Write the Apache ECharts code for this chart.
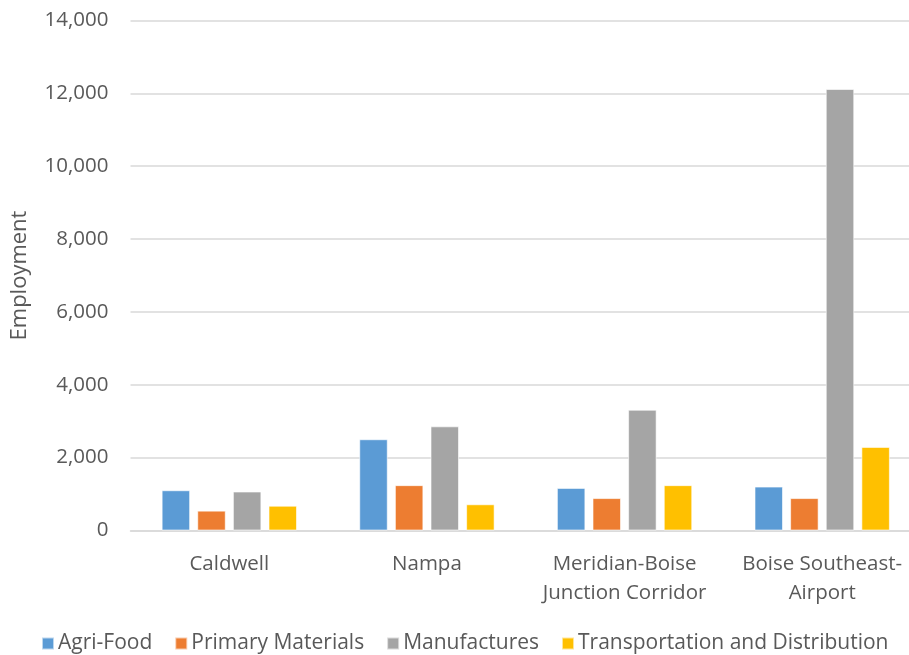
<!DOCTYPE html>
<html>
<head>
<meta charset="utf-8">
<style>
  html, body { margin: 0; padding: 0; background: #fff; overflow: hidden; }
  #chart { width: 921px; height: 655px; }
</style>
<script src="https://cdn.jsdelivr.net/npm/echarts@6/dist/echarts.min.js"></script>
</head>
<body>
<div id="chart"></div>
<script>
// Employment by cluster in each district
const categories = ['Caldwell', 'Nampa', 'Meridian-Boise\nJunction Corridor', 'Boise Southeast-\nAirport'];
const agriFood = [1105, 2505, 1170, 1205];
const primaryMaterials = [545, 1245, 890, 890];
const manufactures = [1070, 2860, 3315, 12120];
const transportation = [680, 720, 1245, 2295];
const yTicks = { min: 0, max: 14000, interval: 2000 };

const textColor = '#595959';
const fontFamily = 'Open Sans, sans-serif';

function barSeries(name, data, color) {
  return {
    name: name,
    type: 'bar',
    data: data,
    barWidth: 28.5,
    barGap: '25%',
    itemStyle: { color: color, borderColor: 'rgba(255,255,255,0.6)', borderWidth: 1 }
  };
}

// the plot runs slightly past the right edge of the visible page
const chart = echarts.init(document.getElementById('chart'), null, { renderer: 'canvas' });
chart.setOption({
  animation: false,
  textStyle: { fontFamily: fontFamily },
  grid: { left: 130.5, right: 0, top: 20.5, height: 510, containLabel: false },
  legend: {
    top: 628,
    left: 36,
    itemWidth: 12,
    itemHeight: 12,
    itemGap: 22,
    icon: 'rect',
    textStyle: { color: textColor, fontSize: 21, fontFamily: fontFamily, padding: [0, 0, 0, -1] }
  },
  xAxis: {
    type: 'category',
    data: categories,
    axisLine: { lineStyle: { color: '#d9d9d9', width: 1.5 } },
    axisTick: { show: false },
    axisLabel: { interval: 0, color: textColor, fontSize: 20.5, lineHeight: 29, margin: 19, fontFamily: fontFamily }
  },
  yAxis: {
    type: 'value',
    min: yTicks.min,
    max: yTicks.max,
    interval: yTicks.interval,
    name: 'Employment',
    nameLocation: 'middle',
    nameGap: 100,
    nameRotate: 90,
    nameTextStyle: { color: textColor, fontSize: 22, fontFamily: fontFamily },
    axisLine: { show: false },
    axisTick: { show: false },
    splitLine: { lineStyle: { color: '#d9d9d9', width: 1.5 } },
    axisLabel: {
      color: textColor,
      fontSize: 20.5,
      margin: 22,
      fontFamily: fontFamily,
      formatter: v => v.toLocaleString('en-US')
    }
  },
  series: [
    barSeries('Agri-Food', agriFood, '#5b9bd5'),
    barSeries('Primary Materials', primaryMaterials, '#ed7d31'),
    barSeries('Manufactures', manufactures, '#a5a5a5'),
    barSeries('Transportation and Distribution', transportation, '#ffc000')
  ]
});
</script>
</body>
</html>
